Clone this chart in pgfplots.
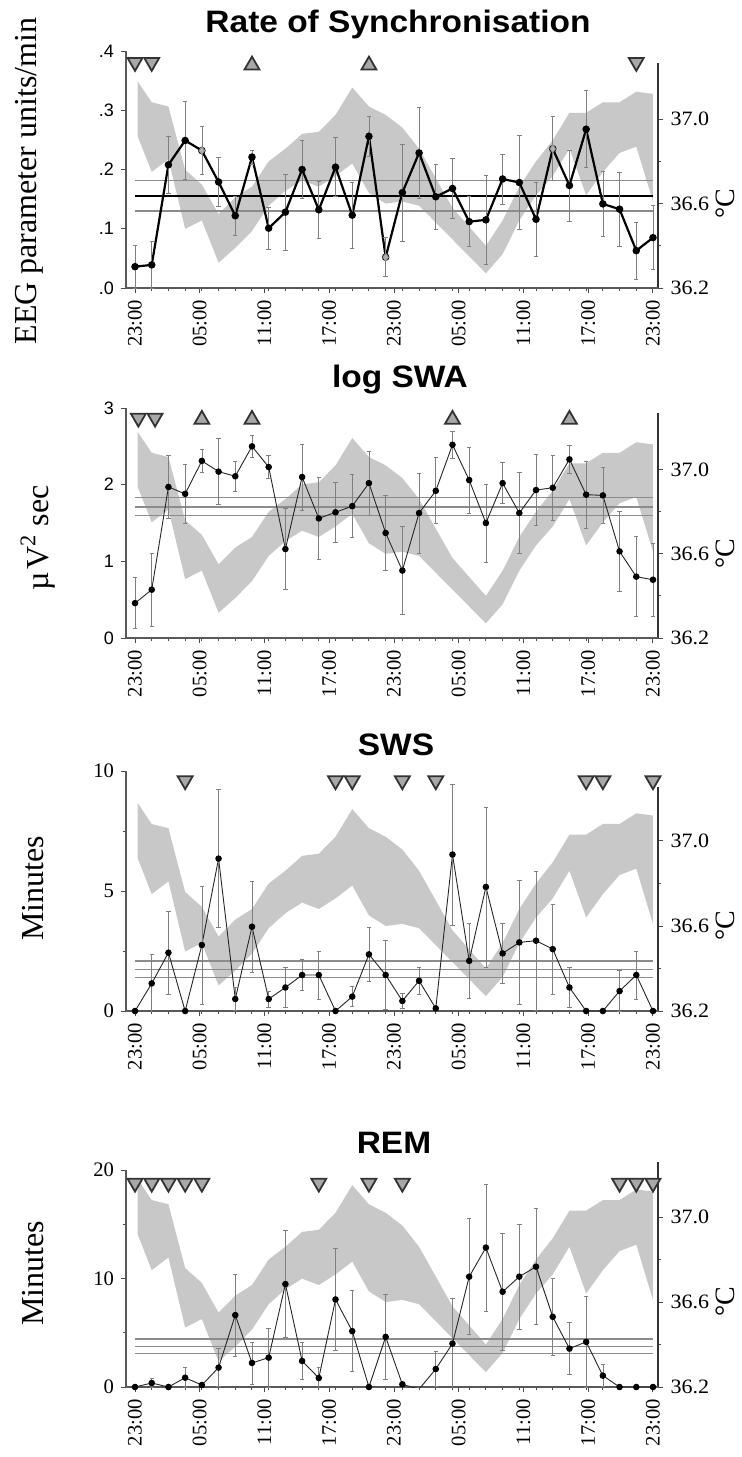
\documentclass[border=0pt]{standalone}
\usepackage{pgfplots}
\pgfplotsset{compat=1.18}
\usepackage{pgfplotstable}
\usepackage{fontspec}
\setmainfont{Liberation Serif}
\newfontfamily\sansf{Liberation Sans}
\definecolor{bandc}{RGB}{200,200,200}
\definecolor{trifill}{RGB}{168,168,168}
\newcommand\tl{\fontsize{10.3}{12}\selectfont}
\newcommand\rtl{\fontsize{10.2}{12}\selectfont}
\newcommand\stl{\sansf\fontsize{9}{11}\selectfont}
\newcommand\ttl{\sansf\bfseries\fontsize{15.5}{18}\selectfont}
\newcommand\ylf{\fontsize{16}{19}\selectfont}

% temperature band (upper forward, lower backward)
\pgfplotstableread{
x T
0.15 37.18
1 37.08
2 37.06
3 36.76
4 36.69
5 36.55
6 36.63
7 36.68
8 36.80
9 36.86
10 36.93
11 36.94
12 37.02
13 37.15
14 37.06
15 37.02
16 36.96
17 36.86
18 36.72
19 36.58
20 36.49
21 36.40
22 36.52
23 36.68
24 36.80
25 36.90
26 37.03
27 37.03
28 37.08
29 37.08
30 37.13
31 37.12
31 36.61
30 36.87
29 36.84
28 36.75
27 36.64
26 36.86
25 36.73
24 36.64
23 36.52
22 36.36
21 36.27
20 36.35
19 36.43
18 36.51
17 36.59
16 36.61
15 36.60
14 36.65
13 36.79
12 36.73
11 36.68
10 36.71
9 36.66
8 36.59
7 36.47
6 36.39
5 36.32
4 36.52
3 36.48
2 36.81
1 36.75
0.15 36.92
}\band

\pgfplotstableread{
x y e
0 0.036 0.036
1 0.039 0.039
2 0.208 0.048
3 0.249 0.066
4 0.232 0.041
5 0.179 0.042
6 0.122 0.033
7 0.221 0.012
8 0.101 0.035
9 0.128 0.064
10 0.200 0.049
11 0.132 0.048
12 0.204 0.050
13 0.123 0.056
14 0.256 0.034
15 0.052 0.033
16 0.161 0.082
17 0.228 0.077
18 0.154 0.055
19 0.168 0.050
20 0.112 0.042
21 0.115 0.075
22 0.184 0.042
23 0.178 0.079
24 0.116 0.062
25 0.235 0.054
26 0.173 0.060
27 0.268 0.065
28 0.142 0.055
29 0.133 0.062
30 0.063 0.048
31 0.085 0.054
}\pA

\pgfplotstableread{
x y e
0 0.455 0.33
1 0.63 0.48
2 1.97 0.41
3 1.88 0.38
4 2.31 0.15
5 2.17 0.43
6 2.11 0.20
7 2.50 0.14
8 2.23 0.15
9 1.16 0.53
10 2.10 0.43
11 1.56 0.53
12 1.64 0.39
13 1.72 0.41
14 2.02 0.42
15 1.37 0.49
16 0.88 0.57
17 1.63 0.52
18 1.92 0.43
19 2.52 0.18
20 2.06 0.43
21 1.50 0.51
22 2.02 0.27
23 1.63 0.53
24 1.93 0.46
25 1.96 0.42
26 2.33 0.18
27 1.87 0.44
28 1.86 0.37
29 1.13 0.52
30 0.80 0.52
31 0.76 0.48
}\pB

\pgfplotstableread{
x y e
0 0 0
1 1.15 1.21
2 2.43 1.73
3 0 0
4 2.75 2.46
5 6.35 2.87
6 0.5 0.47
7 3.51 1.91
8 0.5 0.33
9 0.98 0.84
10 1.50 0.65
11 1.50 1.0
12 0 0
13 0.6 0.41
14 2.36 1.12
15 1.5 1.43
16 0.42 0.32
17 1.26 0.56
18 0.11 0
19 6.52 2.93
20 2.09 1.56
21 5.17 3.33
22 2.40 1.25
23 2.86 2.59
24 2.93 2.91
25 2.58 1.87
26 0.98 0.84
27 0 0
28 0 0
29 0.83 0.85
30 1.5 1.0
31 0 0
}\pC

\pgfplotstableread{
x y e
0 0 0
1 0.37 0.4
2 0 0
3 0.86 0.93
4 0.18 0
5 1.79 1.75
6 6.63 3.76
7 2.22 1.94
8 2.71 2.74
9 9.49 4.93
10 2.40 1.70
11 0.83 0.96
12 8.07 4.72
13 5.15 3.73
14 0 0
15 4.62 3.95
16 0.25 0
17 -0.2 0
18 1.66 1.64
19 4.0 4.17
20 10.17 5.33
21 12.85 5.85
22 8.78 5.4
23 10.17 4.83
24 11.09 5.34
25 6.47 3.55
26 3.54 2.41
27 4.16 4.16
28 1.05 1.01
29 0 0
30 0 0
31 0 0
}\pD

\pgfplotsset{
  common/.style={scale only axis, width=266pt, xmin=-0.54, xmax=31.3,
    anchor=south west, tick align=outside, major tick length=2.5pt,
    minor tick length=1.5pt, tick style={black!70, line width=0.5pt}},
  tempaxis/.style={common, axis x line=none, axis y line*=right, ymin=36.2,
    ytick={36.2,36.6,37.0}, yticklabels={36.2,36.6,37.0}, minor ytick={36.4,36.8},
    yticklabel style={font=\rtl, xscale=1.08}, axis line style={black!80, line width=0.6pt}},
  dataaxis/.style={common, axis x line*=bottom, axis y line*=left,
    xtick={0,3.875,7.75,11.625,15.5,19.375,23.25,27.125,31},
    xticklabels={23:00,05:00,11:00,17:00,23:00,05:00,11:00,17:00,23:00},
    minor xtick={0,1,...,31},
    xticklabel style={rotate=90, anchor=east, font=\tl},
    axis line style={black!65, line width=0.6pt}},
  band/.style={fill=bandc, draw=none},
  hl/.style={black!45, line width=0.7pt},
  errs/.style={error bars/.cd, y dir=both, y explicit,
    error bar style={black!50, line width=0.35pt},
    error mark options={rotate=90, black!50, mark size=1.1pt, line width=0.35pt}},
  tridown/.style={only marks, mark=triangle*, mark size=4.3pt,
    mark options={fill=trifill, draw=black!80, line width=0.9pt, rotate=180}},
  triup/.style={only marks, mark=triangle*, mark size=4.3pt,
    mark options={fill=trifill, draw=black!80, line width=0.9pt}},
  thinline/.style={black!85, line width=0.45pt, mark=*, mark size=1.4pt,
    mark options={black}},
}

\begin{document}
\begin{tikzpicture}
\useasboundingbox (0,0) rectangle (371pt,-728.5pt);

% ---------------- Panel 1 ----------------
\begin{axis}[tempaxis, at={(63pt,-144pt)}, height=112.5pt, ymax=37.266]
\addplot[band] table[x=x,y=T]{\band};
\end{axis}
\begin{axis}[dataaxis, at={(63pt,-144pt)}, height=118.5pt, ymin=0, ymax=0.4,
  ytick={0,0.1,0.2,0.3,0.4}, yticklabels={.0,.1,.2,.3,.4}, yticklabel style={font=\stl}]
\addplot[hl, line width=0.6pt] coordinates {(0,0.182) (31,0.182)};
\addplot[hl, line width=0.6pt] coordinates {(0,0.130) (31,0.130)};
\addplot[black, line width=1pt] coordinates {(0,0.156) (31,0.156)};
\addplot[black, line width=1.1pt, mark=*, mark size=1.3pt, mark options={solid}, errs]
  table[x=x,y=y,y error=e]{\pA};
\addplot[only marks, mark=diamond*, mark size=1.9pt, mark options={fill=gray!60, draw=gray!85}]
  coordinates {(4,0.232) (15,0.052) (25,0.235)};
\addplot[tridown] coordinates {(0,0.381) (1,0.381) (30,0.381)};
\addplot[triup] coordinates {(7,0.376) (14,0.376)};
\end{axis}

% ---------------- Panel 2 ----------------
\begin{axis}[tempaxis, at={(63pt,-319pt)}, height=112.5pt, ymax=37.269]
\addplot[band] table[x=x,y=T]{\band};
\end{axis}
\begin{axis}[dataaxis, at={(63pt,-319pt)}, height=115pt, ymin=0, ymax=3,
  ytick={0,1,2,3}, yticklabels={0,1,2,3}, yticklabel style={font=\stl}]
\addplot[hl] coordinates {(0,1.83) (31,1.83)};
\addplot[hl] coordinates {(0,1.71) (31,1.71)};
\addplot[hl] coordinates {(0,1.60) (31,1.60)};
\addplot[thinline, errs] table[x=x,y=y,y error=e]{\pB};
\addplot[tridown] coordinates {(0.2,2.87) (1.2,2.87)};
\addplot[triup] coordinates {(4,2.85) (7,2.85) (19,2.85) (26,2.85)};
\end{axis}

% ---------------- Panel 3 ----------------
\begin{axis}[tempaxis, at={(63pt,-505.5pt)}, height=112pt, ymax=37.254]
\addplot[band] table[x=x,y=T]{\band};
\end{axis}
\begin{axis}[dataaxis, at={(63pt,-505.5pt)}, height=120pt, ymin=0, ymax=10,
  ytick={0,5,10}, yticklabels={0,5,10}, minor ytick={2.5,7.5}, yticklabel style={font=\tl}]
\addplot[hl] coordinates {(0,2.09) (31,2.09)};
\addplot[hl] coordinates {(0,1.73) (31,1.73)};
\addplot[hl] coordinates {(0,1.39) (31,1.39)};
\addplot[thinline, errs] table[x=x,y=y,y error=e]{\pC};
\addplot[tridown] coordinates {(3,9.6) (12,9.6) (13,9.6) (16,9.6) (18,9.6) (27,9.6) (28,9.6) (31,9.6)};
\end{axis}

% ---------------- Panel 4 ----------------
\begin{axis}[tempaxis, at={(63pt,-693.5pt)}, height=112.5pt, ymax=37.259]
\addplot[band] table[x=x,y=T]{\band};
\end{axis}
\begin{axis}[dataaxis, at={(63pt,-693.5pt)}, height=108.5pt, ymin=0, ymax=20,
  ytick={0,10,20}, yticklabels={0,10,20}, minor ytick={5,15}, yticklabel style={font=\tl}]
\addplot[hl] coordinates {(0,4.41) (31,4.41)};
\addplot[hl] coordinates {(0,3.73) (31,3.73)};
\addplot[hl] coordinates {(0,3.08) (31,3.08)};
\addplot[thinline, errs] table[x=x,y=y,y error=e]{\pD};
\addplot[tridown] coordinates {(0,18.8) (1,18.8) (2,18.8) (3,18.8) (4,18.8) (11,18.8) (14,18.8) (16,18.8) (29,18.8) (30,18.8) (31,18.8)};
\end{axis}

% ---------------- Titles ----------------
\node[font=\ttl, anchor=base, xscale=1.08] at (199pt,-16.3pt) {Rate of Synchronisation};
\node[font=\ttl, anchor=base, xscale=1.08] at (200pt,-193.5pt) {log SWA};
\node[font=\ttl, anchor=base, xscale=1.08] at (198pt,-377.5pt) {SWS};
\node[font=\ttl, anchor=base, xscale=1.08] at (197pt,-576.5pt) {REM};

% ---------------- Y labels ----------------
\node[rotate=90, anchor=base, font=\ylf] at (18pt,-90.5pt) {EEG parameter units/min};
\node[rotate=90, anchor=base, font=\ylf] at (24pt,-269pt) {µ\kern1.5pt V\textsuperscript{2} sec};
\node[rotate=90, anchor=base, font=\ylf] at (21.5pt,-444pt) {Minutes};
\node[rotate=90, anchor=base, font=\ylf] at (21.5pt,-636.5pt) {Minutes};

\node[rotate=90, anchor=base, font=\fontsize{14}{16}\selectfont] at (367pt,-101.8pt) {°C};
\node[rotate=90, anchor=base, font=\fontsize{14}{16}\selectfont] at (367pt,-276.9pt) {°C};
\node[rotate=90, anchor=base, font=\fontsize{14}{16}\selectfont] at (367pt,-463pt) {°C};
\node[rotate=90, anchor=base, font=\fontsize{14}{16}\selectfont] at (367pt,-651pt) {°C};
\end{tikzpicture}
\end{document}
